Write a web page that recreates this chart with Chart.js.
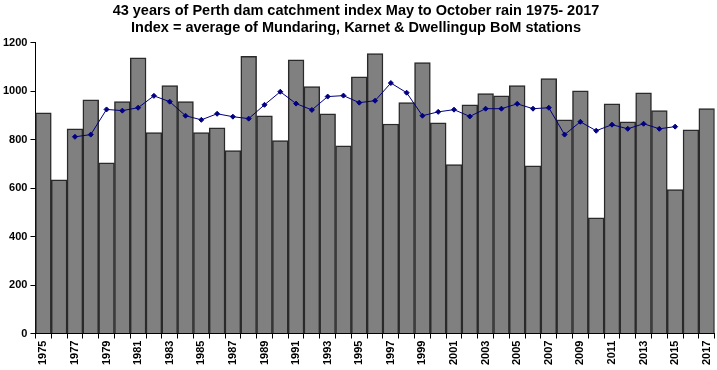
<!DOCTYPE html>
<html>
<head>
<meta charset="utf-8">
<script src="https://cdn.jsdelivr.net/npm/chart.js@4"></script>
<style>
  html, body { margin: 0; padding: 0; background: #fff; }
  #wrap { width: 717px; height: 370px; overflow: hidden; }
</style>
</head>
<body>
<div id="wrap"><canvas id="rainChart" width="722" height="370"></canvas></div>
<script>
// years 1975 - 2017
const years = [];
for (let y = 1975; y <= 2017; y++) years.push(String(y));

// May-Oct rain index (mm)
const rainIndex = [
  911, 634, 845, 965, 705, 957, 1138, 829, 1023, 957,
  829, 849, 755, 1144, 899, 796, 1130, 1019, 907, 775,
  1060, 1155, 865, 953, 1118, 870, 697, 944, 990, 981,
  1023, 692, 1052, 882, 1002, 478, 948, 874, 994, 920,
  594, 841, 928
];

// 5 year running mean (blank at both ends)
const runningMean = [
  null, null, 812, 821, 925, 920, 932, 981, 957, 899,
  882, 907, 895, 887, 944, 998, 949, 923, 978, 982,
  953, 961, 1034, 994, 899, 915, 924, 896, 928, 928,
  948, 928, 932, 821, 874, 837, 862, 845, 866, 845,
  854, null, null
];

const yTicks = [0, 200, 400, 600, 800, 1000, 1200];

const titleLines = [
  "43 years of Perth dam catchment index May to October rain 1975- 2017",
  "Index = average of Mundaring, Karnet & Dwellingup BoM stations"
];

Chart.defaults.font.family = "Arial, 'Liberation Sans', sans-serif";
Chart.defaults.color = "#000";

const ctx = document.getElementById("rainChart").getContext("2d");
new Chart(ctx, {
  type: "bar",
  data: {
    labels: years,
    datasets: [
      {
        type: "line",
        label: "5 yr mean",
        data: runningMean,
        borderColor: "#000080",
        backgroundColor: "#000080",
        borderWidth: 1,
        pointStyle: "rectRot",
        pointRadius: 2.5,
        pointBorderWidth: 1,
        spanGaps: false,
        tension: 0,
        order: 0
      },
      {
        label: "Rain index",
        data: rainIndex,
        backgroundColor: "#808080",
        borderColor: "#2a2a2a",
        borderWidth: 1.5,
        categoryPercentage: 1.0,
        barPercentage: 1.0,
        order: 1
      }
    ]
  },
  options: {
    responsive: false,
    animation: false,
    // canvas is 5px wider than the page so the last bar reaches the edge;
    // paddings keep the title centred where it was
    layout: { padding: { left: -5, right: 5, top: 0, bottom: 3 } },
    plugins: {
      legend: { display: false },
      tooltip: { enabled: false },
      title: {
        display: true,
        text: titleLines,
        font: { size: 14.5, weight: "bold" },
        color: "#000",
        padding: { top: 2, bottom: 6 },
        lineHeight: 1.17
      }
    },
    scales: {
      x: {
        offset: true,
        grid: {
          offset: true,
          drawOnChartArea: false,
          drawTicks: true,
          tickLength: 5,
          color: "#000"
        },
        border: { display: true, color: "#000", width: 1 },
        ticks: {
          autoSkip: false,
          maxRotation: 90,
          minRotation: 90,
          padding: 2,
          font: { size: 11, weight: "bold" },
          callback: function (val, i) { return i % 2 === 0 ? years[i] : ""; }
        }
      },
      y: {
        min: 0,
        max: 1200,
        afterBuildTicks: function (axis) { axis.ticks = yTicks.map(v => ({ value: v })); },
        afterFit: function (scale) { scale.width += 5; },
        grid: {
          drawOnChartArea: false,
          drawTicks: true,
          tickLength: 5,
          color: "#000"
        },
        border: { display: true, color: "#000", width: 1 },
        ticks: {
          padding: 3,
          font: { size: 11, weight: "bold" },
          callback: function (v) { return String(v); }
        }
      }
    }
  }
});
</script>
</body>
</html>
